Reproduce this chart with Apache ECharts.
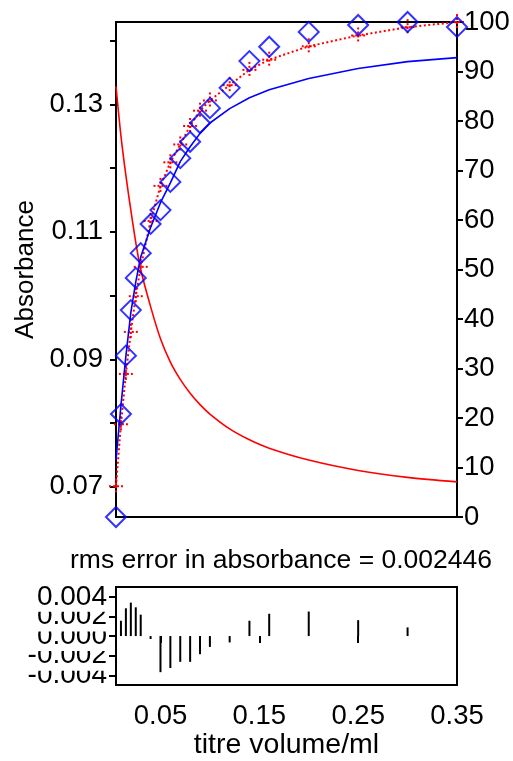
<!DOCTYPE html>
<html>
<head>
<meta charset="utf-8">
<script src="https://cdn.jsdelivr.net/npm/echarts@6/dist/echarts.min.js"></script>
<style>
html,body{margin:0;padding:0;background:#fff;}
#chart{width:513px;height:761px;}
</style>
</head>
<body>
<div id="chart"></div>
<script>
// titre volumes (ml)
const titreVolume = [0.005,0.01,0.015,0.02,0.025,0.03,0.04,0.05,0.06,0.07,0.08,0.09,0.10,0.12,0.14,0.16,0.20,0.25,0.30,0.35];
// observed absorbance (red crosses + dotted line, left axis)
const absorbanceObs = [0.0701,0.0798,0.0877,0.0943,0.0999,0.1045,0.1117,0.1172,0.1209,0.1237,0.1266,0.1290,0.1306,0.1330,0.1354,0.1370,0.1391,0.1408,0.1421,0.1429];
// diamonds (right axis, %)
const diamondPct = [0,20.8,32.6,41.8,48.3,53.3,59.2,62.0,67.7,72.5,75.8,79.6,82.6,86.7,92.1,95.0,98.0,99.4,100,99.0];
// blue solid curve (right axis, %)
const blueCurve = [11.5,22.5,32.5,41.3,47.5,52.5,58.5,63.5,67.5,71.8,74.8,77.5,79.6,82.5,84.7,86.3,88.6,90.6,92.0,92.8];
// red solid curve (right axis, %)
const redCurve = [87.0,77.0,69.0,62.0,55.5,50.0,42.5,36.0,31.3,27.8,25.0,22.7,20.8,17.8,15.6,13.9,11.5,9.4,8.0,7.1];
// residuals in absorbance
const residuals = [0,0.00156,0.00283,0.00341,0.00293,0.00218,-0.0003,-0.00368,-0.00326,-0.00263,-0.00263,-0.00185,-0.00111,-0.00065,0.00156,0.00227,0.0025,0.00162,0.00088,-0.0003];
// tick labels
const absTicks = [0.07,0.09,0.11,0.13];
const absMinorTicks = [0.07,0.08,0.09,0.10,0.11,0.12,0.13,0.14];
const pctTicks = [0,10,20,30,40,50,60,70,80,90,100];
const resTicks = [-0.004,-0.002,0,0.002,0.004];
const xTicks = [0.05,0.15,0.25,0.35];
const rmsText = 'rms error in absorbance = 0.002446';

const FONT = 'Liberation Sans';
const zip = (a,b) => a.map((v,i)=>[v,b[i]]);

// one axis per residual tick label so every label is drawn (upper ones over lower ones)
const resAxes = resTicks.map((t,i)=>({
  type:'value',gridIndex:1,min:-0.005,max:0.005,position:'left',offset:0,z:10+i,
  axisLine:{show:false},
  axisTick:{show:true,length:7,lineStyle:{color:'#000',width:2},customValues:[t]},
  axisLabel:{show:true,fontSize:28,fontFamily:FONT,color:'#000',margin:9,customValues:[t],
    showMinLabel:true,showMaxLabel:true,hideOverlap:false,
    formatter:v=>v.toFixed(3),backgroundColor:'#fff',lineHeight:30},
  splitLine:{show:false}
}));

const chart = echarts.init(document.getElementById('chart'), null, {renderer:'canvas'});
const option = {
  animation:false,
  backgroundColor:'#fff',
  textStyle:{fontFamily:FONT,color:'#000'},
  grid:[
    {left:116,top:22,width:341,height:495,show:true,borderColor:'#000',borderWidth:2,backgroundColor:'transparent'},
    {left:116,top:587,width:341,height:101,show:true,borderColor:'#000',borderWidth:2,backgroundColor:'transparent'}
  ],
  graphic:[
    {type:'text',x:281,y:561,style:{text:rmsText,font:'26.5px "Liberation Sans"',fill:'#000',textAlign:'center',textVerticalAlign:'middle'}}
  ],
  xAxis:[
    {type:'value',gridIndex:0,min:0.005,max:0.35,axisLine:{show:false},axisTick:{show:false},axisLabel:{show:false},splitLine:{show:false}},
    {type:'value',gridIndex:1,min:0.005,max:0.35,
      axisLine:{show:false},
      axisTick:{show:true,length:7,lineStyle:{color:'#000',width:2},customValues:xTicks},
      axisLabel:{show:true,fontSize:27.5,fontFamily:FONT,color:'#000',margin:17,customValues:xTicks,hideOverlap:false,formatter:v=>v.toFixed(2)},
      splitLine:{show:false},
      name:'titre volume/ml',nameLocation:'middle',nameGap:45,nameTextStyle:{fontSize:28.5,fontFamily:FONT,color:'#000'}}
  ],
  yAxis:[
    {type:'value',gridIndex:0,position:'left',min:0.06526,max:0.14291,
      axisLine:{show:false},
      axisTick:{show:true,length:6,lineStyle:{color:'#000',width:2},customValues:absMinorTicks},
      axisLabel:{show:true,fontSize:27.5,fontFamily:FONT,color:'#000',margin:13,customValues:absTicks,hideOverlap:false,formatter:v=>v.toFixed(2)},
      splitLine:{show:false},
      name:'Absorbance',nameLocation:'middle',nameGap:74,nameRotate:90,nameTextStyle:{fontSize:26,fontFamily:FONT,color:'#000'}},
    {type:'value',gridIndex:0,position:'right',min:0,max:100,
      axisLine:{show:false},
      axisTick:{show:true,length:6,lineStyle:{color:'#000',width:2},customValues:pctTicks},
      axisLabel:{show:true,fontSize:27.5,fontFamily:FONT,color:'#000',margin:7,customValues:pctTicks,hideOverlap:false},
      splitLine:{show:false}}
  ].concat(resAxes),
  series:[
    {type:'line',xAxisIndex:0,yAxisIndex:0,data:zip(titreVolume,absorbanceObs),showSymbol:false,symbol:'none',
      lineStyle:{color:'#ff0000',width:2,type:[2,2.5]},z:2},
    {type:'custom',xAxisIndex:0,yAxisIndex:0,data:zip(titreVolume,absorbanceObs),z:3,
      renderItem:function(params,api){
        const p = api.coord([api.value(0),api.value(1)]);
        const st = {stroke:'#ff0000',lineWidth:2,lineDash:[2,2],fill:null};
        return {type:'group',children:[
          {type:'line',shape:{x1:p[0]-7,y1:p[1],x2:p[0]+7,y2:p[1]},style:st},
          {type:'line',shape:{x1:p[0],y1:p[1]-8,x2:p[0],y2:p[1]+8},style:st}
        ]};
      }},
    {type:'line',xAxisIndex:0,yAxisIndex:1,data:zip(titreVolume,redCurve),showSymbol:false,symbol:'none',smooth:0.3,
      lineStyle:{color:'#ff0000',width:1.6},z:4},
    {type:'line',xAxisIndex:0,yAxisIndex:1,data:zip(titreVolume,blueCurve),showSymbol:false,symbol:'none',
      lineStyle:{color:'#0000ff',width:1.6},z:5},
    {type:'scatter',xAxisIndex:0,yAxisIndex:1,data:zip(titreVolume,diamondPct),symbol:'diamond',symbolSize:20,clip:false,
      itemStyle:{color:'transparent',borderColor:'#0000ff',borderWidth:2},z:6},
    {type:'bar',xAxisIndex:1,yAxisIndex:2,data:zip(titreVolume,residuals),barWidth:2,
      itemStyle:{color:'#000'},z:3}
  ]
};
chart.setOption(option);
</script>
</body>
</html>
